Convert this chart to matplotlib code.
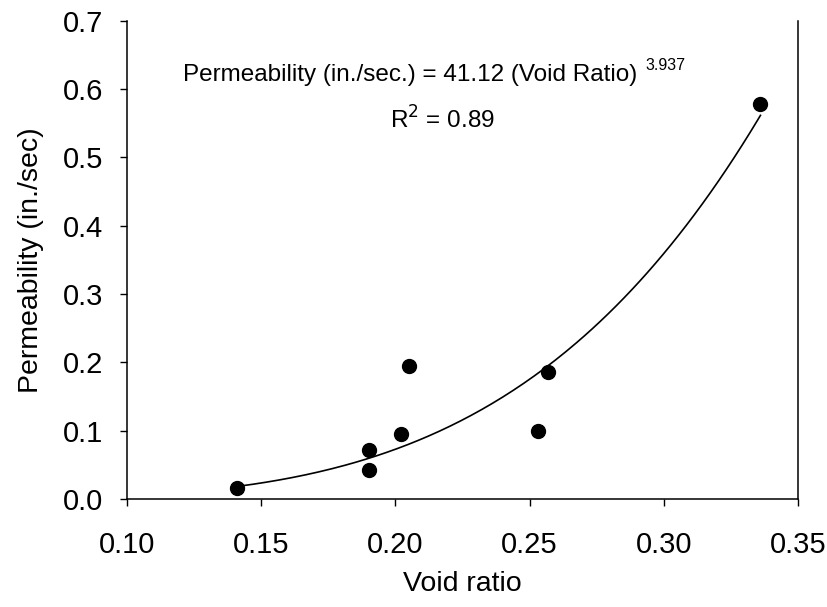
import numpy as np
import matplotlib
matplotlib.use("Agg")
import matplotlib.pyplot as plt

plt.rcParams['font.family'] = ['Liberation Sans', 'DejaVu Sans']

# data
void_ratio = [0.141, 0.190, 0.190, 0.202, 0.205, 0.253, 0.257, 0.336]
permeability = [0.016, 0.071, 0.043, 0.095, 0.194, 0.099, 0.186, 0.578]

# power fit from the annotation
coef = 41.12
expo = 3.937

fig = plt.figure(figsize=(8.28, 6.07), dpi=100)
ax = fig.add_axes([0.1534, 0.1779, 0.8104, 0.7881])

xf = np.linspace(min(void_ratio), max(void_ratio), 200)
ax.plot(xf, coef * xf ** expo, color='black', lw=1.2, zorder=2)
ax.scatter(void_ratio, permeability, s=100, color='black', zorder=3, clip_on=False)

ax.set_xlim(0.10, 0.35)
ax.set_ylim(0.0, 0.7)
ax.set_xticks([0.10, 0.15, 0.20, 0.25, 0.30, 0.35])
ax.set_yticks(np.arange(0, 0.71, 0.1))
ax.xaxis.set_major_formatter(plt.FormatStrFormatter('%.2f'))
ax.yaxis.set_major_formatter(plt.FormatStrFormatter('%.1f'))
ax.tick_params(direction='out', length=5, width=1, labelsize=21)
ax.tick_params(axis='x', pad=18)
ax.tick_params(axis='y', pad=12)
ax.spines['top'].set_visible(False)
for s in ['left', 'bottom', 'right']:
    ax.spines[s].set_linewidth(1.1)

ax.set_xlabel("Void ratio", fontsize=20.5, labelpad=9)
ax.set_ylabel("Permeability (in./sec)", fontsize=20.5, labelpad=14)

ax.text(0.083, 0.886, "Permeability (in./sec.) = 41.12 (Void Ratio)", transform=ax.transAxes,
        fontsize=17.5, va='center', ha='left')
ax.text(0.772, 0.907, "3.937", transform=ax.transAxes, fontsize=11.5, va='center', ha='left')
ax.text(0.392, 0.792, r"R$^2$ = 0.89", transform=ax.transAxes, fontsize=17.5, va='center', ha='left')

plt.savefig("out.png", dpi=100)
